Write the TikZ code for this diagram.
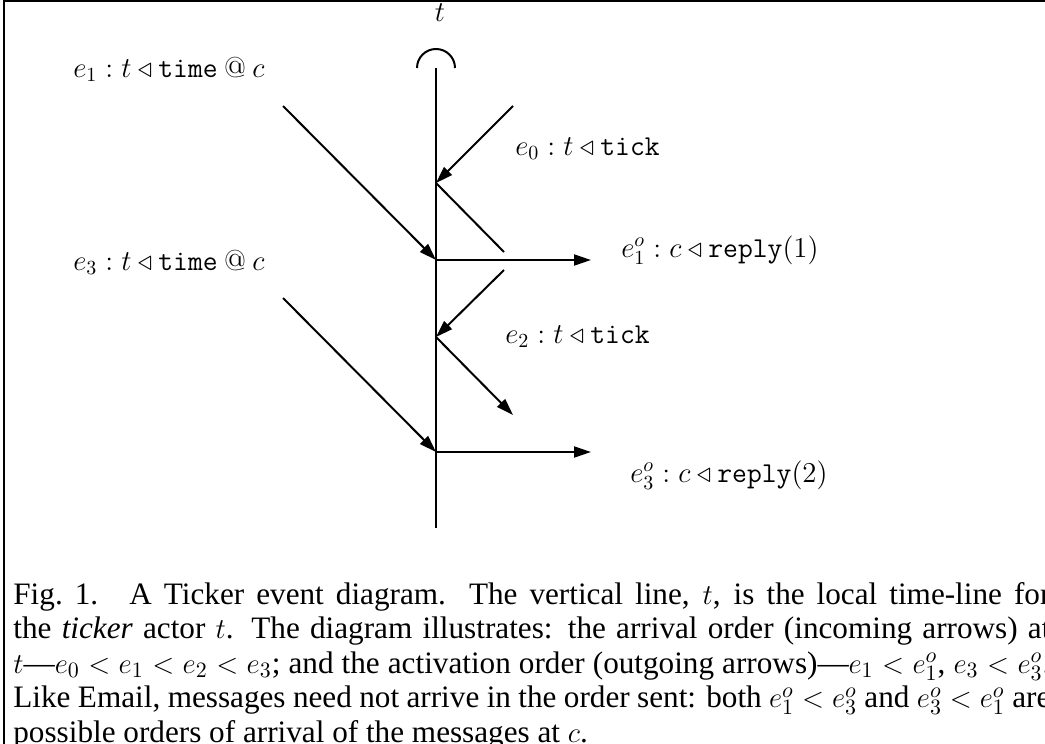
\documentclass[tikz,border=0pt]{standalone}
\usepackage[no-math]{fontspec}
\newfontfamily\capfont{Liberation Serif}
\usetikzlibrary{arrows.meta}
\tikzset{
  tline/.style={line width=1pt},
  msg/.style={line width=1pt,-{Triangle[length=8.5pt,width=5.5pt]}},
  lbl/.style={inner sep=0pt,anchor=base west,font=\fontsize{14.4}{17}\selectfont},
  frame/.style={line width=1pt}
}
\begin{document}
\begin{tikzpicture}[x=0.5pt,y=-0.5pt]
\useasboundingbox (0,0) rectangle (1045,744);
% frame
\coordinate (fb) at (4,744);
\coordinate (ftl) at (4,1);
\coordinate (ftr) at (1045,1);
\draw[frame] (fb) -- (ftl) -- (ftr);
% time line
\coordinate (top) at (436,68);
\coordinate (bot) at (436,528);
\coordinate (j0) at (436,183);
\coordinate (j1) at (436,260);
\coordinate (j2) at (436,337);
\coordinate (j3) at (436,452);
\coordinate (s0) at (513,106);
\coordinate (s1) at (283,106);
\coordinate (o0) at (504,252);
\coordinate (s2) at (504,270);
\coordinate (o2) at (513,415);
\coordinate (s3) at (283,298);
\coordinate (r1) at (591,260);
\coordinate (r3) at (591,452);
\draw[tline] (bot) -- (top);
\draw[tline] (417,68) arc[start angle=180,end angle=360,radius=19];
\node[lbl,anchor=base] (tl) at (440,21) {$t$};
% messages
\draw[msg] (s0) -- (j0);
\draw[tline] (j0) -- (o0);
\draw[msg] (s1) -- (j1);
\draw[msg] (j1) -- (r1);
\draw[msg] (s2) -- (j2);
\draw[msg] (j2) -- (o2);
\draw[msg] (s3) -- (j3);
\draw[msg] (j3) -- (r3);
% labels
\node[lbl] (le1) at (73,77) {$e_1 : t \triangleleft \texttt{time} \mathbin{@} c$};
\node[lbl] (le3) at (73,270) {$e_3 : t \triangleleft \texttt{time} \mathbin{@} c$};
\node[lbl] (le0) at (515,155) {$e_0 : t \triangleleft \texttt{tick}$};
\node[lbl] (le2) at (505,343) {$e_2 : t \triangleleft \texttt{tick}$};
\node[lbl] (le1o) at (621,257) {$e_1^o : c \triangleleft \texttt{reply}(1)$};
\node[lbl] (le3o) at (630,482) {$e_3^o : c \triangleleft \texttt{reply}(2)$};
% caption
\node[inner sep=0pt,anchor=base west] (cap) at (13,604) {\parbox[t]{518.5pt}{\capfont\fontsize{15.6}{17.25}\selectfont\parindent=0pt
Fig.~1.\quad A Ticker event diagram.  The vertical line, $t$, is the local time-line for\linebreak
the \textit{ticker} actor $t$.  The diagram illustrates:  the arrival order (incoming arrows) at\linebreak
$t$—$e_0 < e_1 < e_2 < e_3$; and the activation order (outgoing arrows)—$e_1 < e_1^o$, $e_3 < e_3^o$.\linebreak
Like Email, messages need not arrive in the order sent: both $e_1^o < e_3^o$ and $e_3^o < e_1^o$ are\linebreak
possible orders of arrival of the messages at $c$.}};
\end{tikzpicture}
\end{document}
